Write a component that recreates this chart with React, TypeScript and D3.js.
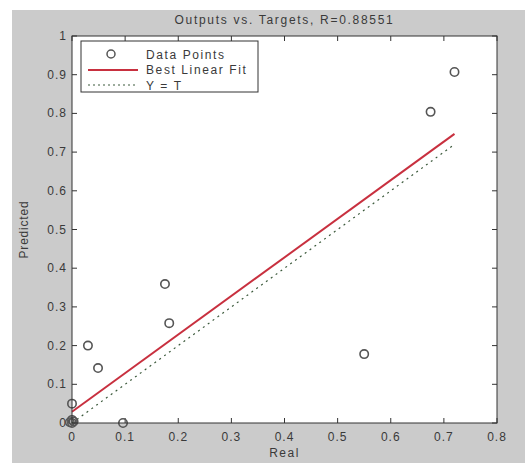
import React from "react";
import * as d3 from "d3";

const realValues = [0.72, 0.675, 0.175, 0.183, 0.03, 0.049, 0.55, 0.096, 0, 0, -0.004, 0.003, 0];
const predictedValues = [0.907, 0.804, 0.359, 0.258, 0.2, 0.142, 0.178, 0, 0.05, 0, 0.002, 0.004, 0.008];
const fitLine = [{ x: 0, y: 0.029 }, { x: 0.72, y: 0.747 }];
const identityLine = [{ x: 0, y: 0 }, { x: 0.72, y: 0.72 }];
const xTicks = [0, 0.1, 0.2, 0.3, 0.4, 0.5, 0.6, 0.7, 0.8];
const yTicks = [0, 0.1, 0.2, 0.3, 0.4, 0.5, 0.6, 0.7, 0.8, 0.9, 1];
const legendLabels = ["Data Points", "Best Linear Fit", "Y = T"];
const title = "Outputs vs. Targets, R=0.88551";

export default function App() {
  const W = 525, H = 463;
  const L = 72, R = 497, T = 36, B = 423;
  const x = d3.scaleLinear().domain([0, 0.8]).range([L, R]);
  const y = d3.scaleLinear().domain([0, 1]).range([B, T]);
  const line = d3.line<{ x: number; y: number }>().x(d => x(d.x)).y(d => y(d.y));
  const font = "Liberation Sans, Arial, sans-serif";
  const txt = "#3a3a3a";
  const fmt = (v: number) => String(v);
  return (
    <svg width={W} height={H} style={{ position: "absolute", left: 0, top: 0 }} fontFamily={font}>
      <rect x={0} y={0} width={W} height={H} fill="#fff" />
      <rect x={12} y={10} width={W - 12} height={H - 10} fill="#cbcbcb" />
      <rect x={L} y={T} width={R - L} height={B - T} fill="#fff" />
      {xTicks.map((t, i) => (
        <g key={"x" + i}>
          <line x1={x(t)} x2={x(t)} y1={B} y2={B - 5} stroke="#333" />
          <line x1={x(t)} x2={x(t)} y1={T} y2={T + 5} stroke="#333" />
          <text x={x(t)} y={B + 18} fontSize={12} letterSpacing={1} textAnchor="middle" fill={txt}>{fmt(t)}</text>
        </g>
      ))}
      {yTicks.map((t, i) => (
        <g key={"y" + i}>
          <line x1={L} x2={L + 5} y1={y(t)} y2={y(t)} stroke="#333" />
          <line x1={R} x2={R - 5} y1={y(t)} y2={y(t)} stroke="#333" />
          <text x={L - 5} y={y(t) + 4} fontSize={12} letterSpacing={1} textAnchor="end" fill={txt}>{fmt(t)}</text>
        </g>
      ))}
      <path d={line(identityLine) || ""} fill="none" stroke="#3c5a3c" strokeWidth={1.2} strokeDasharray="2,4" />
      <path d={line(fitLine) || ""} fill="none" stroke="#c8303f" strokeWidth={2} />
      {realValues.map((v, i) => (
        <circle key={"p" + i} cx={x(v)} cy={y(predictedValues[i])} r={4.2} fill="none" stroke="#555" strokeWidth={1.6} />
      ))}
      <rect x={L} y={T} width={R - L} height={B - T} fill="none" stroke="#333" strokeWidth={1} />
      <rect x={81} y={41} width={177} height={51} fill="#fff" stroke="#333" strokeWidth={1} />
      <circle cx={111} cy={54} r={4} fill="none" stroke="#555" strokeWidth={1.5} />
      <line x1={88} x2={138} y1={70} y2={70} stroke="#c8303f" strokeWidth={2} />
      <line x1={88} x2={138} y1={85} y2={85} stroke="#3c5a3c" strokeWidth={1.2} strokeDasharray="2,3" />
      {legendLabels.map((l, i) => (
        <text key={"l" + i} x={146} y={58.5 + i * 15.5} fontSize={12} letterSpacing={1.6} fill={txt}>{l}</text>
      ))}
      <text x={(L + R) / 2} y={24} fontSize={12} letterSpacing={1.7} textAnchor="middle" fill={txt}>{title}</text>
      <text x={(L + R) / 2} y={457} fontSize={12} letterSpacing={1.5} textAnchor="middle" fill={txt}>Real</text>
      <text transform={`translate(28,${(T + B) / 2}) rotate(-90)`} fontSize={12} letterSpacing={0.8} textAnchor="middle" fill={txt}>Predicted</text>
    </svg>
  );
}
